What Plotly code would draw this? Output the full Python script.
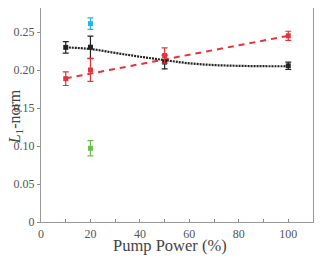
import plotly.graph_objects as go

# Data
x_black = [10, 20, 50, 100]
y_black = [0.2298, 0.2300, 0.2105, 0.2055]
e_black = [0.0075, 0.0145, 0.0090, 0.0048]

x_red = [10, 20, 50, 100]
y_red = [0.1886, 0.2000, 0.2190, 0.2450]
e_red = [0.0090, 0.0150, 0.0100, 0.0060]

x_cyan = [20]
y_cyan = [0.2610]
e_cyan = [0.0075]

x_green = [20]
y_green = [0.0970]
e_green = [0.0100]

# fitted curves
x_fit_black = [10, 20, 30, 40, 50, 60, 70, 80, 90, 100]
y_fit_black = [0.2298, 0.2276, 0.2225, 0.2175, 0.2130, 0.2088, 0.2065, 0.2055, 0.2050, 0.2050]
x_fit_red = [10, 100]
y_fit_red = [0.1890, 0.2450]

y_ticks = [0, 0.05, 0.10, 0.15, 0.20, 0.25]
y_tick_labels = ["0", "0.05", "0.10", "0.15", "0.20", "0.25"]
x_ticks = [0, 20, 40, 60, 80, 100]
x_tick_labels = ["0", "20", "40", "60", "80", "100"]

RED = "#e8313b"
BLACK = "#222222"
CYAN = "#1cb8e3"
GREEN = "#6cc04a"

fig = go.Figure()
fig.add_trace(go.Scatter(x=x_fit_red, y=y_fit_red, mode="lines",
                         line=dict(color=RED, width=2, dash="6px,5px")))
fig.add_trace(go.Scatter(x=x_fit_black, y=y_fit_black, mode="lines",
                         line=dict(color=BLACK, width=2.2, dash="2px,1px", shape="spline")))

def pts(x, y, e, c):
    fig.add_trace(go.Scatter(x=x, y=y, mode="markers",
                             marker=dict(color=c, size=5, symbol="square"),
                             error_y=dict(type="data", array=e, color=c, thickness=1.2, width=3)))

pts(x_black, y_black, e_black, BLACK)
pts(x_red, y_red, e_red, RED)
pts(x_cyan, y_cyan, e_cyan, CYAN)
pts(x_green, y_green, e_green, GREEN)

font = "Liberation Serif, DejaVu Serif, serif"
# page body has an 8px margin, so the figure is offset by 8px
fig.update_layout(
    width=325, height=250,
    margin=dict(l=33, r=20, t=0, b=36),
    paper_bgcolor="white", plot_bgcolor="white",
    showlegend=False,
    font=dict(family=font, color="#444444"),
    annotations=[
        dict(text="Pump Power (%)", xref="paper", yref="paper", x=0.474, y=-0.11,
             xanchor="center", yanchor="middle", showarrow=False,
             font=dict(size=16.5, family=font, color="#444")),
        dict(text="<i>L</i><sub>1</sub>-norm", xref="paper", yref="paper", x=-0.095, y=0.49,
             xanchor="center", yanchor="middle", showarrow=False, textangle=-90,
             font=dict(size=16, family=font, color="#444")),
    ],
)
fig.update_xaxes(range=[0, 110], tickvals=x_ticks, ticktext=x_tick_labels,
                 minor=dict(dtick=10, ticks="inside", ticklen=3, tickcolor="#888"),
                 ticks="inside", ticklen=3, tickcolor="#888",
                 showline=True, linecolor="#999", linewidth=1.2, mirror=True,
                 showgrid=False, zeroline=False, automargin=False,
                 tickfont=dict(size=12, family=font, color="#555"))
fig.update_yaxes(range=[0, 0.2816], tickvals=y_ticks, ticktext=y_tick_labels,
                 ticks="outside", ticklen=3, tickcolor="#888",
                 showline=True, linecolor="#999", linewidth=1.2, mirror=True,
                 showgrid=False, zeroline=False, automargin=False,
                 tickfont=dict(size=12, family=font, color="#555"))

fig.write_html("out.html")
